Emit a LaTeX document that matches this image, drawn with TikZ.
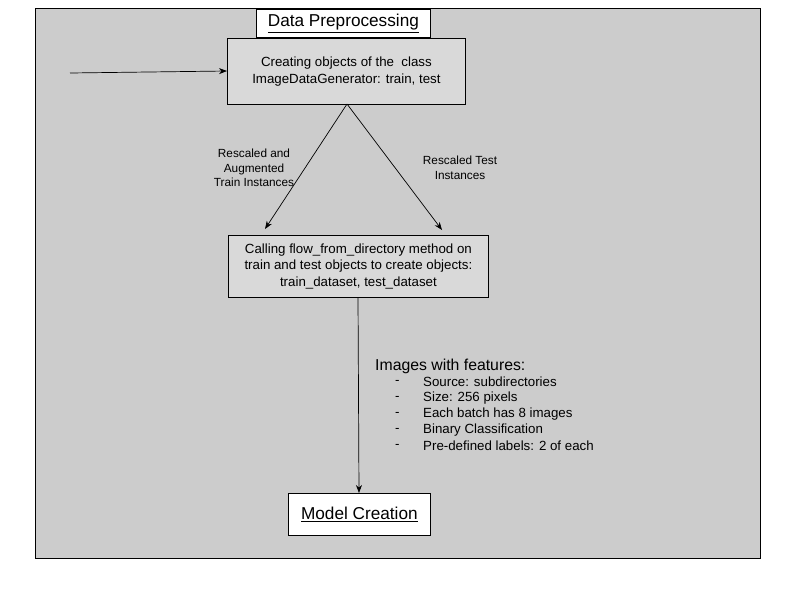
\documentclass[tikz,border=0pt]{standalone}
\usepackage{fontspec}
\setmainfont{Liberation Sans}
\usetikzlibrary{arrows.meta}
\begin{document}
\begin{tikzpicture}[x=1pt,y=-1pt,
  procbox/.style={draw=black, fill=boxgray, line width=0.8pt, align=center, inner sep=0pt, font=\fontsize{13.3}{16.5}\selectfont},
  titlebox/.style={draw=black, fill=white, line width=0.8pt, inner sep=0pt, font=\fontsize{17.2}{20}\selectfont},
  conn/.style={-{Stealth[length=8pt,width=6pt]}, line width=0.7pt},
  lbl/.style={font=\fontsize{11.8}{14.5}\selectfont, align=center},
  listtxt/.style={anchor=west, font=\fontsize{13.3}{16}\selectfont, inner sep=0pt},
]
\definecolor{bggray}{HTML}{CCCCCC}
\definecolor{boxgray}{HTML}{D9D9D9}
\useasboundingbox (0,0) rectangle (800,600);
\fill[white] (0,0) rectangle (800,600);
\draw[fill=bggray, line width=0.9pt] (35,8) rectangle (760,558);

% title box
\node[titlebox, minimum width=174pt, minimum height=28pt, anchor=north west] (title) at (256,9)
  {\underline{Data Preprocessing}};
% first process box
\node[procbox, minimum width=238pt, minimum height=66pt, anchor=north west] (gen) at (227,38)
  {Creating objects of the\ \ class\\ ImageDataGenerator: train, test};
% second process box
\node[procbox, minimum width=260pt, minimum height=62pt, anchor=north west] (flow) at (228,235)
  {Calling flow\_from\_directory method on\\ train and test objects to create objects:\\ train\_dataset, test\_dataset};
% model creation
\node[titlebox, minimum width=142pt, minimum height=42pt, anchor=north west] (model) at (288,493)
  {\underline{Model Creation}};

\coordinate (start) at (70,73);
\draw[conn] (start) -- (gen.west |- 0,71);
\coordinate (gb) at (347,104);
\coordinate (ta) at (265,229);
\coordinate (tb) at (442,230);
\draw[conn] (gb) -- (ta);
\draw[conn] (gb) -- (tb);
\coordinate (fb) at (358,297);
\draw[conn] (fb) -- (359,493);

\node[lbl] (l1) at (254,168) {Rescaled and\\ Augmented\\ Train Instances};
\node[lbl] (l2) at (460,168) {Rescaled Test\\ Instances};

\node[anchor=west, font=\fontsize{15.8}{18}\selectfont, inner sep=0pt] (feat) at (375,366) {Images with features:};
\foreach \t [count=\i] in {Source: subdirectories, Size: 256 pixels, Each batch has 8 images, Binary Classification, Pre-defined labels: 2 of each}{
  \node[listtxt] (d\i) at (395,366+16*\i) {-};
  \node[listtxt] (it\i) at (423,366+16*\i) {\t};
}
\end{tikzpicture}
\end{document}
